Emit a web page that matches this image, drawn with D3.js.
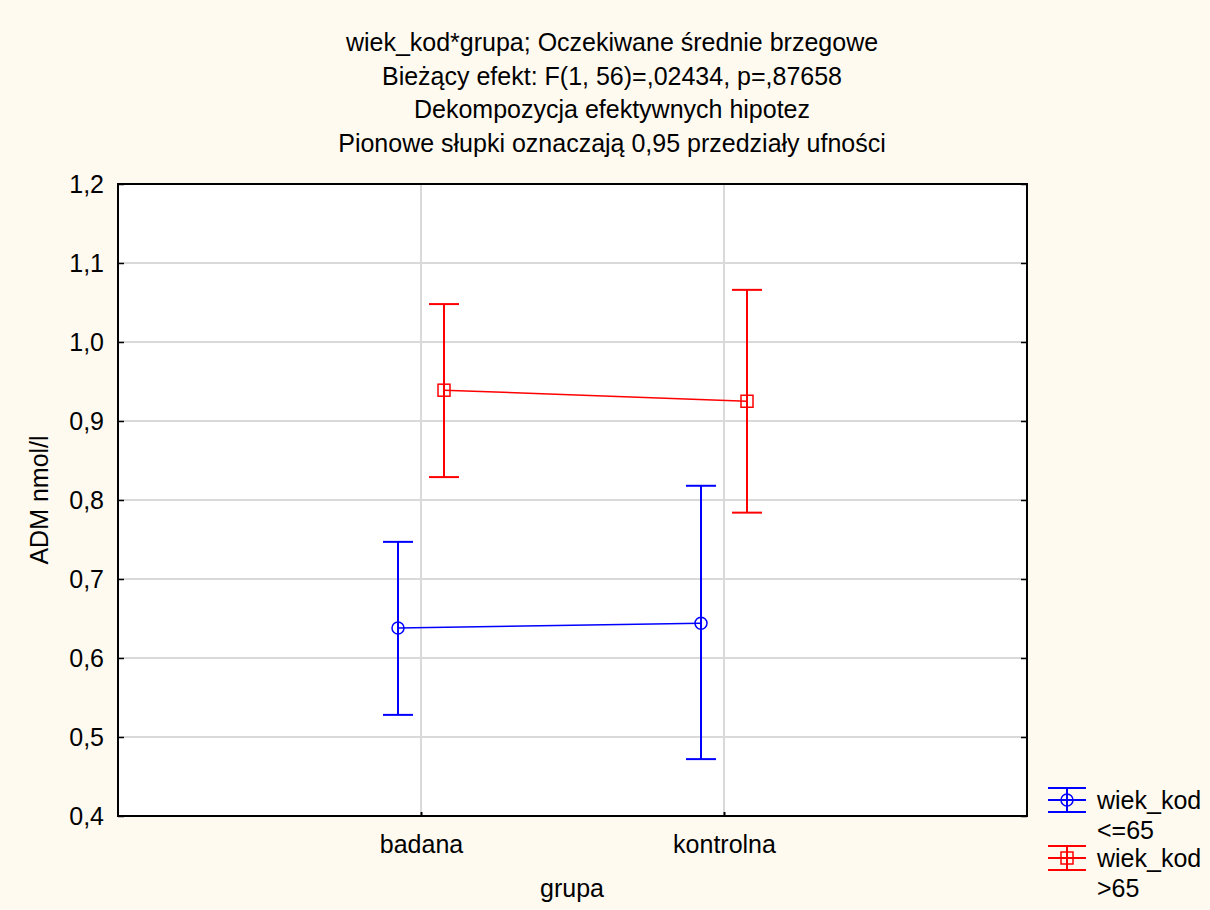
<!DOCTYPE html>
<html><head><meta charset="utf-8">
<script src="https://cdn.jsdelivr.net/npm/d3@7"></script>
<style>body{margin:0;background:#fffaf0;} svg{display:block;}</style>
</head><body>
<svg id="c" width="1210" height="910"></svg>
<script>
const categories = ["badana", "kontrolna"];
const seriesNames = ["wiek_kod\n<=65", "wiek_kod\n>65"];
const seriesColors = ["#0000ff", "#ff0000"];
const meanLow = [0.638, 0.644];
const lowerLow = [0.528, 0.472];
const upperLow = [0.747, 0.818];
const meanHigh = [0.939, 0.925];
const lowerHigh = [0.829, 0.784];
const upperHigh = [1.048, 1.066];
const yTicks = [0.4, 0.5, 0.6, 0.7, 0.8, 0.9, 1.0, 1.1, 1.2];
const titleLines = ["wiek_kod*grupa; Oczekiwane średnie brzegowe",
  "Bieżący efekt: F(1, 56)=,02434, p=,87658",
  "Dekompozycja efektywnych hipotez",
  "Pionowe słupki oznaczają 0,95 przedziały ufności"];

const series = [
  {name: seriesNames[0], color: seriesColors[0], mean: meanLow, lo: lowerLow, hi: upperLow, off: -23, marker: "circle"},
  {name: seriesNames[1], color: seriesColors[1], mean: meanHigh, lo: lowerHigh, hi: upperHigh, off: 23, marker: "square"}
];

const svg = d3.select("#c");
const font = "Liberation Sans, Arial, sans-serif";
const FS = 25;
const L = 118, R = 1027, T = 184, B = 816;

svg.append("rect").attr("width",1210).attr("height",910).attr("fill","#fffaf0");

const x = d3.scalePoint().domain(["", ...categories, " "]).range([L, R]);
const y = d3.scaleLinear().domain([0.4, 1.2]).range([B, T]);

svg.append("rect").attr("x",L).attr("y",T).attr("width",R-L).attr("height",B-T).attr("fill","#fff");

// gridlines
const g = svg.append("g");
g.selectAll(".hg").data(yTicks.slice(1,-1)).join("line")
  .attr("x1",L).attr("x2",R).attr("y1",d=>y(d)).attr("y2",d=>y(d))
  .attr("stroke","#d9d9d9").attr("stroke-width",2);
g.selectAll(".vg").data(categories).join("line")
  .attr("x1",d=>x(d)).attr("x2",d=>x(d)).attr("y1",T).attr("y2",B)
  .attr("stroke","#d9d9d9").attr("stroke-width",2);

// axes
const yAxis = d3.axisLeft(y).tickValues(yTicks).tickSize(-6).tickPadding(14)
  .tickFormat(d => d3.format(".1f")(d).replace(".", ","));
const ya = svg.append("g").attr("transform",`translate(${L},0)`).call(yAxis);
ya.select(".domain").remove();
ya.selectAll("line").attr("stroke","#000").attr("stroke-width",1.5);
ya.selectAll("text").attr("font-family",font).attr("font-size",FS).attr("fill","#000");

const yAxisR = d3.axisRight(y).tickValues(yTicks).tickSize(-6).tickFormat("");
const yr = svg.append("g").attr("transform",`translate(${R},0)`).call(yAxisR);
yr.select(".domain").remove();
yr.selectAll("line").attr("stroke","#000").attr("stroke-width",1.5);

const xAxis = d3.axisBottom(x).tickValues(categories).tickSize(-4).tickPadding(19);
const xa = svg.append("g").attr("transform",`translate(0,${B})`).call(xAxis);
xa.select(".domain").remove();
xa.selectAll("line").attr("stroke","#000").attr("stroke-width",2);
xa.selectAll("text").attr("font-family",font).attr("font-size",FS).attr("fill","#000");

// frame
svg.append("rect").attr("x",L).attr("y",T).attr("width",R-L).attr("height",B-T)
  .attr("fill","none").attr("stroke","#000").attr("stroke-width",2);

// series
series.forEach(s => {
  const px = i => x(categories[i]) + s.off;
  const pg = svg.append("g");
  pg.append("path").datum(categories.map((c,i)=>i))
    .attr("d", d3.line().x(i=>px(i)).y(i=>y(s.mean[i])))
    .attr("fill","none").attr("stroke",s.color).attr("stroke-width",1.5);
  categories.forEach((c,i) => {
    pg.append("line").attr("x1",px(i)).attr("x2",px(i)).attr("y1",y(s.lo[i])).attr("y2",y(s.hi[i]))
      .attr("stroke",s.color).attr("stroke-width",2);
    [s.lo[i], s.hi[i]].forEach(v => {
      pg.append("line").attr("x1",px(i)-15).attr("x2",px(i)+15).attr("y1",y(v)).attr("y2",y(v))
        .attr("stroke",s.color).attr("stroke-width",2);
    });
    if (s.marker === "circle") {
      pg.append("circle").attr("cx",px(i)).attr("cy",y(s.mean[i])).attr("r",6)
        .attr("fill","none").attr("stroke",s.color).attr("stroke-width",1.5);
    } else {
      pg.append("rect").attr("x",px(i)-6).attr("y",y(s.mean[i])-6).attr("width",12).attr("height",12)
        .attr("fill","none").attr("stroke",s.color).attr("stroke-width",1.5);
    }
  });
});

// titles
svg.selectAll(".tl").data(titleLines).join("text")
  .attr("x",612).attr("y",(d,i)=>51+i*33.5).attr("text-anchor","middle")
  .attr("font-family",font).attr("font-size",FS).attr("fill","#000").text(d=>d);

svg.append("text").attr("transform","translate(48,500) rotate(-90)").attr("text-anchor","middle")
  .attr("font-family",font).attr("font-size",FS).attr("fill","#000").text("ADM nmol/l");
svg.append("text").attr("x",572).attr("y",897).attr("text-anchor","middle")
  .attr("font-family",font).attr("font-size",FS).attr("fill","#000").text("grupa");

// legend
series.forEach((s,k) => {
  const cy = 800 + k*58;
  const lg = svg.append("g");
  [-12, 0, 12].forEach(dy => lg.append("line").attr("x1",1048).attr("x2",1086).attr("y1",cy+dy).attr("y2",cy+dy)
    .attr("stroke",s.color).attr("stroke-width",2));
  lg.append("line").attr("x1",1067).attr("x2",1067).attr("y1",cy-12).attr("y2",cy+12).attr("stroke",s.color).attr("stroke-width",2);
  if (s.marker === "circle") lg.append("circle").attr("cx",1067).attr("cy",cy).attr("r",6).attr("fill","none").attr("stroke",s.color).attr("stroke-width",1.5);
  else lg.append("rect").attr("x",1061).attr("y",cy-6).attr("width",12).attr("height",12).attr("fill","none").attr("stroke",s.color).attr("stroke-width",1.5);
  s.name.split("\n").forEach((t,j) => lg.append("text").attr("x",1097).attr("y",cy+9+j*30)
    .attr("font-family",font).attr("font-size",FS).attr("fill","#000").text(t));
});
</script>
</body></html>
